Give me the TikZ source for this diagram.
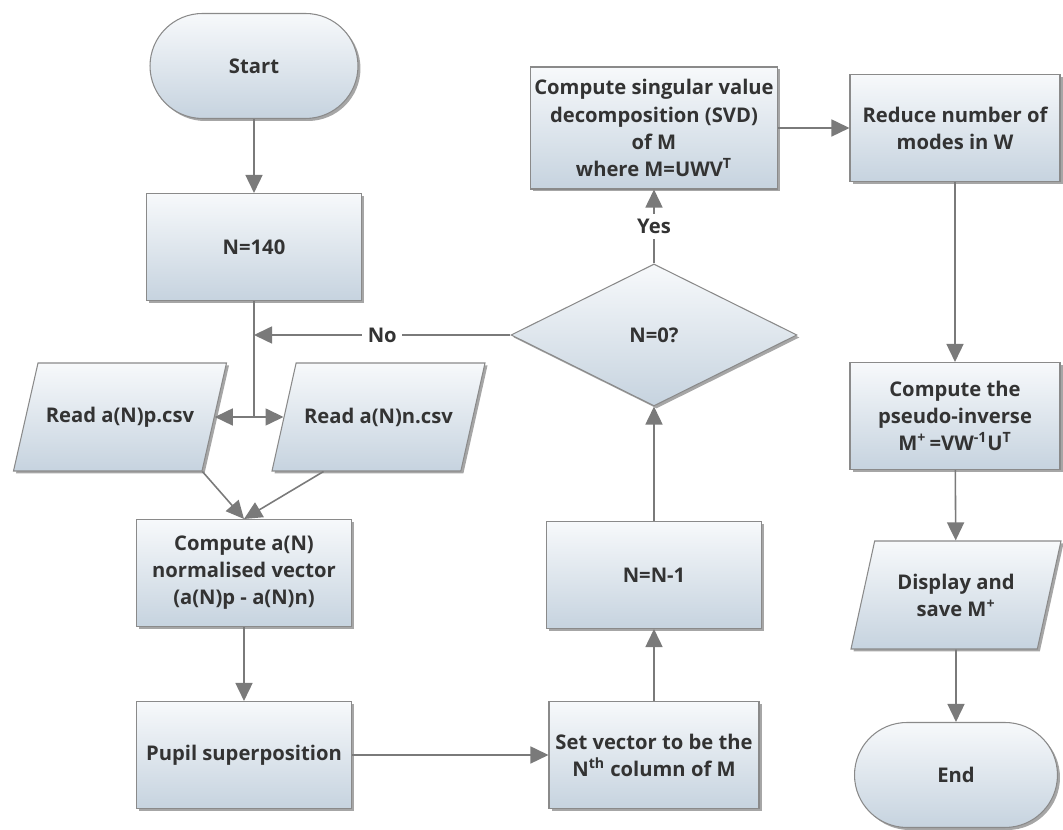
\documentclass[tikz,border=0pt]{standalone}
\usepackage{fontspec}
\setmainfont{Open Sans}
\usetikzlibrary{arrows.meta,positioning,shapes.geometric,shapes.misc,shadows}

\definecolor{boxtop}{HTML}{F7F9FB}
\definecolor{boxbot}{HTML}{C6D3DF}
\definecolor{edge}{HTML}{8A8A8A}
\definecolor{wire}{HTML}{7A7A7A}
\definecolor{ink}{HTML}{333333}

\begin{document}
\begin{tikzpicture}[
  every node/.style={font=\bfseries\fontsize{11.5}{15.4}\selectfont, text=ink, align=center},
  block/.style={draw=edge, line width=0.6pt, inner sep=2pt, top color=boxtop, bottom color=boxbot,
    drop shadow={shadow xshift=0.05cm, shadow yshift=-0.05cm, fill=black, opacity=0.35}},
  proc/.style={block, rectangle, minimum width=4.3cm, minimum height=2.14cm},
  term/.style={block, rounded rectangle, minimum width=4.3cm, minimum height=2.1cm},
  io/.style={block, trapezium, trapezium left angle=77, trapezium right angle=103,
    trapezium stretches body=true, inner ysep=0.86cm, minimum width=4.26cm, minimum height=2.16cm},
  test/.style={block, diamond, aspect=2, inner sep=0pt, minimum width=5.72cm, minimum height=2.84cm},
  flow/.style={draw=wire, line width=0.9pt, -{Triangle[length=3.6mm,width=3.4mm]}},
  link/.style={draw=wire, line width=0.9pt}
]
  \useasboundingbox (0,0) rectangle (21.26,16.6);

  % left column
  \node[term] (start) at (5.08,15.28) {Start};
  \node[proc] (n140) at (5.08,11.66) {N=140};
  \node[io] (readp) at (2.40,8.26) {Read a(N)p.csv};
  \node[io] (readn) at (7.57,8.26) {Read a(N)n.csv};
  \node[proc] (norm) at (4.88,5.14) {Compute a(N)\\normalised vector\\(a(N)p - a(N)n)};
  \node[proc] (pupil) at (4.88,1.50) {Pupil superposition};

  % middle column (loop over N)
  \node[proc, minimum width=4.2cm] (setvec) at (13.08,1.50) {Set vector to be the\\N\textsuperscript{th} column of M};
  \node[proc] (dec1) at (13.08,5.10) {N=N-1};
  \node[test] (iszero) at (13.08,9.90) {N=0?};
  \node[proc, minimum width=4.78cm, minimum height=2.44cm] (svd) at (13.08,14.04)
    {Compute singular value\\decomposition (SVD)\\of M\\where M=UWV\textsuperscript{T}};

  % right column
  \node[proc, minimum width=4.2cm] (reduce) at (19.1,14.04) {Reduce number of\\modes in W};
  \node[proc, minimum width=4.2cm] (pinv) at (19.1,8.28)
    {Compute the\\pseudo-inverse\\M\textsuperscript{+}\,=VW\textsuperscript{-1}U\textsuperscript{T}};
  \node[io, inner ysep=0.6cm, minimum width=4.2cm] (disp) at (19.12,4.70) {Display and\\save M\textsuperscript{+}};
  \node[term, minimum width=4.2cm] (stop) at (19.12,1.10) {End};

  \coordinate (split) at (n140 |- readp);

  \draw[flow] (start) -- (n140);
  \draw[link] (n140) -- (split);
  \draw[flow] (split) -- (readp);
  \draw[flow] (split) -- (readn);
  \draw[flow] (iszero) -- node[fill=white, inner sep=3pt] {No} (iszero -| split);
  \draw[flow] (readp.bottom right corner) -- (norm.north);
  \draw[flow] ([xshift=-1.1cm]readn.south) -- (norm.north);
  \draw[flow] (norm) -- (pupil);
  \draw[flow] (pupil) -- (setvec);
  \draw[flow] (setvec) -- (dec1);
  \draw[flow] (dec1) -- (iszero);
  \draw[flow] (iszero) -- node[fill=white, inner sep=3pt] {Yes} (svd);
  \draw[flow] (svd) -- (reduce);
  \draw[flow] (reduce) -- (pinv);
  \draw[flow] (pinv) -- (disp);
  \draw[flow] (disp) -- (stop);
\end{tikzpicture}
\end{document}
